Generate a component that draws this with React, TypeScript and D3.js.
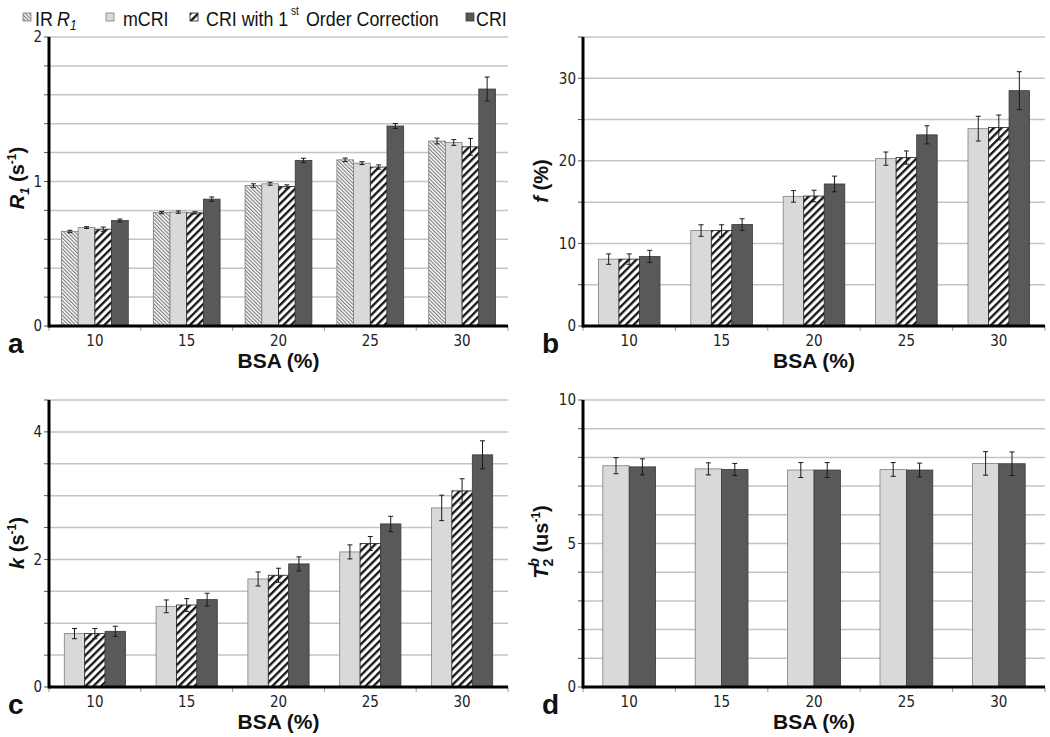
import React from "react";
import * as d3 from "d3";

const categories = ["10", "15", "20", "25", "30"];

// Panel a: R1 (s^-1)
const r1IR = [0.654, 0.785, 0.972, 1.15, 1.28];
const r1IRErr = [0.008, 0.008, 0.012, 0.012, 0.02];
const r1mCRI = [0.681, 0.788, 0.984, 1.127, 1.27];
const r1mCRIErr = [0.006, 0.008, 0.01, 0.01, 0.02];
const r1CRI1 = [0.67, 0.783, 0.965, 1.1, 1.24];
const r1CRI1Err = [0.015, 0.008, 0.012, 0.015, 0.058];
const r1CRI = [0.73, 0.878, 1.146, 1.384, 1.64];
const r1CRIErr = [0.01, 0.015, 0.015, 0.017, 0.083];

// Panel b: f (%)
const fmCRI = [8.1, 11.56, 15.7, 20.27, 23.9];
const fmCRIErr = [0.63, 0.7, 0.7, 0.8, 1.5];
const fCRI1 = [8.1, 11.56, 15.74, 20.4, 24.05];
const fCRI1Err = [0.63, 0.7, 0.7, 0.8, 1.5];
const fCRI = [8.43, 12.29, 17.2, 23.15, 28.5];
const fCRIErr = [0.73, 0.7, 0.95, 1.1, 2.3];

// Panel c: k (s^-1)
const kmCRI = [0.837, 1.265, 1.694, 2.118, 2.808];
const kmCRIErr = [0.08, 0.1, 0.11, 0.11, 0.2];
const kCRI1 = [0.837, 1.286, 1.752, 2.25, 3.075];
const kCRI1Err = [0.08, 0.1, 0.11, 0.11, 0.19];
const kCRI = [0.873, 1.37, 1.93, 2.557, 3.64];
const kCRIErr = [0.08, 0.1, 0.11, 0.12, 0.22];

// Panel d: T2b (us^-1)
const t2mCRI = [7.71, 7.6, 7.56, 7.58, 7.79];
const t2mCRIErr = [0.28, 0.21, 0.26, 0.24, 0.41];
const t2CRI = [7.67, 7.58, 7.56, 7.56, 7.78];
const t2CRIErr = [0.28, 0.21, 0.26, 0.24, 0.41];

// y-axis tick labels
const aLabels = [0, 1, 2];
const bLabels = [0, 10, 20, 30];
const cLabels = [0, 2, 4];
const dLabels = [0, 5, 10];

const STYLE: Record<string, { fill: string; stroke: string }> = {
  IR: { fill: "url(#patIR)", stroke: "#7a7a7a" },
  mCRI: { fill: "#d9d9d9", stroke: "#7f7f7f" },
  CRI1: { fill: "url(#patCRI1)", stroke: "#222" },
  CRI: { fill: "#595959", stroke: "#3a3a3a" },
};

type Series = { key: string; values: number[]; errs: number[] };
type PanelDef = {
  letter: string;
  x0: number;
  x1: number;
  yTop: number;
  yBot: number;
  max: number;
  step: number;
  labels: number[];
  series: Series[];
  title: React.ReactNode;
  titleX: number;
  titleY: number;
};

const TICKFONT = "'DejaVu Sans Condensed', 'DejaVu Sans', sans-serif";
const SANS = "'Liberation Sans', Arial, sans-serif";

function Panel({ p }: { p: PanelDef }) {
  const x = d3.scaleBand<string>().domain(categories).range([p.x0, p.x1]).padding(0);
  const y = d3.scaleLinear().domain([0, p.max]).range([p.yBot, p.yTop]);
  const n = p.series.length;
  const bw = x.bandwidth();
  const barW = bw / (n + 1.5);
  const inner = d3
    .scaleBand<string>()
    .domain(p.series.map((s) => s.key))
    .range([barW * 0.75, bw - barW * 0.75])
    .padding(0);
  const grid = d3.range(0, p.max + p.step / 2, p.step);
  const boundaries = categories.map((c) => x(c)!).concat([p.x1]);
  return (
    <g>
      {grid.map((g, i) => (
        <g key={"g" + i}>
          {i > 0 && (
            <line x1={p.x0} x2={p.x1} y1={y(g)} y2={y(g)} stroke="#c4c4c4" strokeWidth={1.5} />
          )}
          <line x1={p.x0 - 5} x2={p.x0} y1={y(g)} y2={y(g)} stroke="#555" strokeWidth={1} />
        </g>
      ))}
      {p.labels.map((l) => (
        <text
          key={"l" + l}
          x={p.x0 - 7}
          y={y(l)}
          dy="0.36em"
          textAnchor="end"
          fontFamily={TICKFONT}
          fontSize={15}
          fill="#222"
        >
          {String(l)}
        </text>
      ))}
      {p.series.map((s) =>
        categories.map((c, i) => {
          const bx = x(c)! + inner(s.key)!;
          const top = y(s.values[i]);
          const st = STYLE[s.key];
          const cx = bx + barW / 2;
          const eTop = y(s.values[i] + s.errs[i]);
          const eBot = y(s.values[i] - s.errs[i]);
          return (
            <g key={s.key + c}>
              <rect
                x={bx}
                y={top}
                width={barW}
                height={p.yBot - top}
                fill={st.fill}
                stroke={st.stroke}
                strokeWidth={0.8}
              />
              <line x1={cx} x2={cx} y1={eTop} y2={eBot} stroke="#1a1a1a" strokeWidth={1} />
              <line x1={cx - 2.5} x2={cx + 2.5} y1={eTop} y2={eTop} stroke="#1a1a1a" strokeWidth={1} />
              <line x1={cx - 2.5} x2={cx + 2.5} y1={eBot} y2={eBot} stroke="#1a1a1a" strokeWidth={1} />
            </g>
          );
        })
      )}
      {boundaries.map((b, i) => (
        <line key={"xt" + i} x1={b} x2={b} y1={p.yBot} y2={p.yBot + 5} stroke="#999" strokeWidth={1} />
      ))}
      <line x1={p.x0} x2={p.x1} y1={p.yBot} y2={p.yBot} stroke="#000" strokeWidth={3} />
      <line x1={p.x0} x2={p.x0} y1={p.yTop} y2={p.yBot + 1.5} stroke="#000" strokeWidth={3} />
      {categories.map((c) => (
        <text
          key={"c" + c}
          x={x(c)! + bw / 2}
          y={p.yBot + 20}
          textAnchor="middle"
          fontFamily={TICKFONT}
          fontSize={15}
          fill="#222"
        >
          {c}
        </text>
      ))}
      <text
        x={(p.x0 + p.x1) / 2}
        y={p.yBot + 42}
        textAnchor="middle"
        fontFamily={SANS}
        fontWeight="bold"
        fontSize={21}
        fill="#111"
      >
        BSA (%)
      </text>
      <text
        x={p.x0 - 41}
        y={p.yBot + 27}
        fontFamily={SANS}
        fontWeight="bold"
        fontSize={28}
        fill="#111"
      >
        {p.letter}
      </text>
      <text
        transform={`translate(${p.titleX},${p.titleY}) rotate(-90)`}
        textAnchor="middle"
        fontFamily={SANS}
        fontWeight="bold"
        fontSize={20}
        fill="#111"
      >
        {p.title}
      </text>
    </g>
  );
}

function LegendText({ x, y, size, italic, children }: { x: number; y: number; size: number; italic?: boolean; children: React.ReactNode }) {
  return (
    <text
      transform={`translate(${x},${y}) scale(0.85,1)`}
      fontFamily={SANS}
      fontSize={size}
      fontStyle={italic ? "italic" : "normal"}
      fill="#111"
    >
      {children}
    </text>
  );
}

export default function App() {
  const topA = 37, botA = 326, topC = 400, botC = 687;
  const panels: PanelDef[] = [
    {
      letter: "a", x0: 49, x1: 508, yTop: topA, yBot: botA, max: 2, step: 0.2, labels: aLabels,
      series: [
        { key: "IR", values: r1IR, errs: r1IRErr },
        { key: "mCRI", values: r1mCRI, errs: r1mCRIErr },
        { key: "CRI1", values: r1CRI1, errs: r1CRI1Err },
        { key: "CRI", values: r1CRI, errs: r1CRIErr },
      ],
      title: (
        <>
          <tspan fontStyle="italic">R</tspan>
          <tspan fontStyle="italic" fontSize={13} dy={5}>1</tspan>
          <tspan dy={-5}> (s</tspan>
          <tspan fontSize={12} dy={-8}>-1</tspan>
          <tspan dy={8}>)</tspan>
        </>
      ),
      titleX: 24, titleY: 178,
    },
    {
      letter: "b", x0: 583, x1: 1045, yTop: topA, yBot: botA, max: 35, step: 5, labels: bLabels,
      series: [
        { key: "mCRI", values: fmCRI, errs: fmCRIErr },
        { key: "CRI1", values: fCRI1, errs: fCRI1Err },
        { key: "CRI", values: fCRI, errs: fCRIErr },
      ],
      title: (
        <>
          <tspan fontStyle="italic">f</tspan>
          <tspan> (%)</tspan>
        </>
      ),
      titleX: 548, titleY: 181,
    },
    {
      letter: "c", x0: 49, x1: 508, yTop: topC, yBot: botC, max: 4.5, step: 0.5, labels: cLabels,
      series: [
        { key: "mCRI", values: kmCRI, errs: kmCRIErr },
        { key: "CRI1", values: kCRI1, errs: kCRI1Err },
        { key: "CRI", values: kCRI, errs: kCRIErr },
      ],
      title: (
        <>
          <tspan fontStyle="italic">k</tspan>
          <tspan> (s</tspan>
          <tspan fontSize={12} dy={-8}>-1</tspan>
          <tspan dy={8}>)</tspan>
        </>
      ),
      titleX: 24, titleY: 543,
    },
    {
      letter: "d", x0: 583, x1: 1045, yTop: topC, yBot: botC, max: 10, step: 1, labels: dLabels,
      series: [
        { key: "mCRI", values: t2mCRI, errs: t2mCRIErr },
        { key: "CRI", values: t2CRI, errs: t2CRIErr },
      ],
      title: (
        <>
          <tspan fontStyle="italic">T</tspan>
          <tspan fontSize={14} dy={5}>2</tspan>
          <tspan fontStyle="italic" fontSize={14} dx={-8} dy={-14}>b</tspan>
          <tspan dy={9}> (us</tspan>
          <tspan fontSize={12} dy={-8}>-1</tspan>
          <tspan dy={8}>)</tspan>
        </>
      ),
      titleX: 548, titleY: 542,
    },
  ];

  const legend = [
    { key: "IR", x: 23 },
    { key: "mCRI", x: 106 },
    { key: "CRI1", x: 190 },
    { key: "CRI", x: 466 },
  ];

  return (
    <svg
      width={1050}
      height={737}
      style={{ position: "absolute", left: 0, top: 0, background: "#fff" }}
    >
      <defs>
        <pattern id="patIR" patternUnits="userSpaceOnUse" width={2.6} height={2.6} patternTransform="rotate(-45)">
          <rect width={2.6} height={2.6} fill="#fff" />
          <line x1={0.6} x2={0.6} y1={0} y2={2.6} stroke="#6a6a6a" strokeWidth={1} />
        </pattern>
        <pattern id="patCRI1" patternUnits="userSpaceOnUse" width={5.5} height={5.5} patternTransform="rotate(45)">
          <rect width={5.5} height={5.5} fill="#fff" />
          <line x1={1.2} x2={1.2} y1={0} y2={5.5} stroke="#111" strokeWidth={2.3} />
        </pattern>
      </defs>
      <rect width={1050} height={737} fill="#fff" />
      {legend.map((l) => (
        <rect
          key={"lg" + l.key}
          x={l.x}
          y={13}
          width={8}
          height={8}
          fill={STYLE[l.key].fill}
          stroke={STYLE[l.key].stroke}
          strokeWidth={0.8}
        />
      ))}
      <LegendText x={35} y={26} size={21}>IR</LegendText>
      <LegendText x={57} y={26} size={21} italic>R</LegendText>
      <LegendText x={70} y={30} size={14} italic>1</LegendText>
      <LegendText x={123} y={26} size={21}>mCRI</LegendText>
      <LegendText x={206} y={26} size={21}>CRI with 1</LegendText>
      <LegendText x={291} y={15} size={12}>st</LegendText>
      <LegendText x={306} y={26} size={21}>Order Correction</LegendText>
      <LegendText x={476} y={26} size={21}>CRI</LegendText>
      {panels.map((p) => (
        <Panel key={p.letter} p={p} />
      ))}
    </svg>
  );
}
